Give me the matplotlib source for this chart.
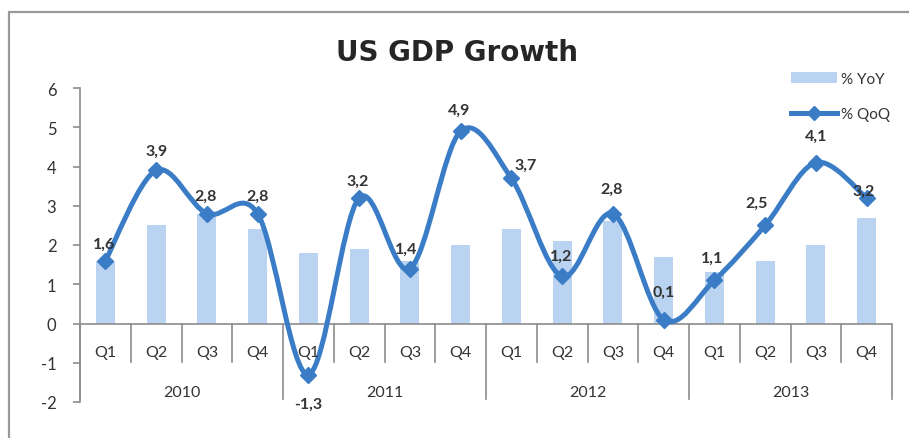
import numpy as np
import matplotlib.pyplot as plt
from matplotlib.path import Path
from matplotlib.patches import PathPatch, Rectangle, Patch
from matplotlib.lines import Line2D
import matplotlib.transforms as mtransforms

years = ["2010", "2011", "2012", "2013"]
quarters = ["Q1", "Q2", "Q3", "Q4"]
yoy = [1.6, 2.5, 2.8, 2.4, 1.8, 1.9, 1.6, 2.0, 2.4, 2.1, 2.6, 1.7, 1.3, 1.6, 2.0, 2.7]
qoq = [1.6, 3.9, 2.8, 2.8, -1.3, 3.2, 1.4, 4.9, 3.7, 1.2, 2.8, 0.1, 1.1, 2.5, 4.1, 3.2]

# label offsets in points (dx, dy) relative to each marker
label_offsets = [(-1, 7), (0, 9), (-1, 8), (0, 8), (0, -16), (-1, 7), (-3, 9), (-1, 10),
                 (10, 5), (-1, 10), (-1, 13), (0, 15), (-2, 11), (-6, 11), (0, 14), (-2, 0)]

BAR = "#b9d3f0"
LINE = "#3a7dc6"
GRID = "#8c8c8c"
TXT = "#333333"

plt.rcParams['font.family'] = ['Lato', 'DejaVu Sans']
plt.rcParams['axes.unicode_minus'] = False

fig = plt.figure(figsize=(9.09, 4.39), dpi=100)
ax = fig.add_axes([80 / 909, 36 / 439, 812 / 909, 314 / 439])

n = len(qoq)
x = np.arange(n)
ax.bar(x, yoy, width=0.37, color=BAR, zorder=1)

# smoothed line: cubic Bezier segments (Catmull-Rom style control points)
pts = np.column_stack([x, qoq]).astype(float)
ext = np.vstack([pts[0], pts, pts[-1]])
verts = [tuple(pts[0])]
codes = [Path.MOVETO]
for i in range(n - 1):
    p0, p1, p2, p3 = ext[i], ext[i + 1], ext[i + 2], ext[i + 3]
    c1 = p1 + (p2 - p0) / 6
    c2 = p2 - (p3 - p1) / 6
    verts += [tuple(c1), tuple(c2), tuple(p2)]
    codes += [Path.CURVE4] * 3
ax.add_patch(PathPatch(Path(verts, codes), fill=False, edgecolor=LINE, lw=3.6,
                       capstyle='round', joinstyle='round', zorder=3))
ax.plot(x, qoq, ls='none', marker='D', ms=8, color=LINE, zorder=4)

for xi, v, (dx, dy) in zip(x, qoq, label_offsets):
    ax.annotate(f"{v:.1f}".replace(".", ","), (xi, v), xytext=(dx, dy),
                textcoords='offset points', ha='center',
                va='bottom' if dy >= 0 else 'top',
                fontsize=11.5, fontweight='bold', color=TXT, zorder=5)

ax.set_xlim(-0.5, n - 0.5)
ax.set_ylim(-2, 6)
ax.set_yticks(range(-2, 7))
ax.set_xticks([])
for s in ['top', 'right', 'bottom']:
    ax.spines[s].set_visible(False)
ax.spines['left'].set_color(GRID)
ax.spines['left'].set_linewidth(1.2)
ax.tick_params(axis='y', colors=GRID, labelcolor=TXT, labelsize=12, length=5, width=1.2, pad=12)
ax.axhline(0, color=GRID, lw=1.2, zorder=2)

# two-level category axis below the zero line
trans = mtransforms.blended_transform_factory(ax.transData, ax.transAxes)
y_zero = 2 / 8
for k in range(n + 1):
    bottom = 0.01 if k % 4 == 0 else 0.127
    ax.plot([k - 0.5, k - 0.5], [y_zero, bottom], color=GRID, lw=1.2,
            transform=trans, clip_on=False, zorder=2)
for i in range(n):
    ax.text(i, 0.158, quarters[i % 4], transform=trans, ha='center', va='center',
            fontsize=11.5, color=TXT)
for j, yr in enumerate(years):
    ax.text(4 * j + 1.5, 0.032, yr, transform=trans, ha='center', va='center',
            fontsize=11.5, color=TXT)

fig.text(457 / 909, 1 - 53 / 439, "US GDP Growth", ha='center', va='center',
         fontsize=20, fontweight='bold', color='#262626', family='DejaVu Sans')

handles = [Patch(facecolor=BAR, edgecolor='none'),
           Line2D([0], [0], color=LINE, lw=3.6, marker='D', ms=7)]
fig.legend(handles, ["% YoY", "% QoQ"], loc='upper left', frameon=False,
           bbox_to_anchor=(777 / 909, 1 - 59 / 439), fontsize=11,
           handlelength=3.0, handletextpad=0.3, labelspacing=1.4,
           labelcolor=TXT)

# chart frame
fig.patches.append(Rectangle((9 / 909, -0.1), 1.2, 1 - 13 / 439 + 0.1,
                             transform=fig.transFigure, fill=False,
                             edgecolor='#999999', lw=1.6))

fig.savefig("out.png", dpi=100)
